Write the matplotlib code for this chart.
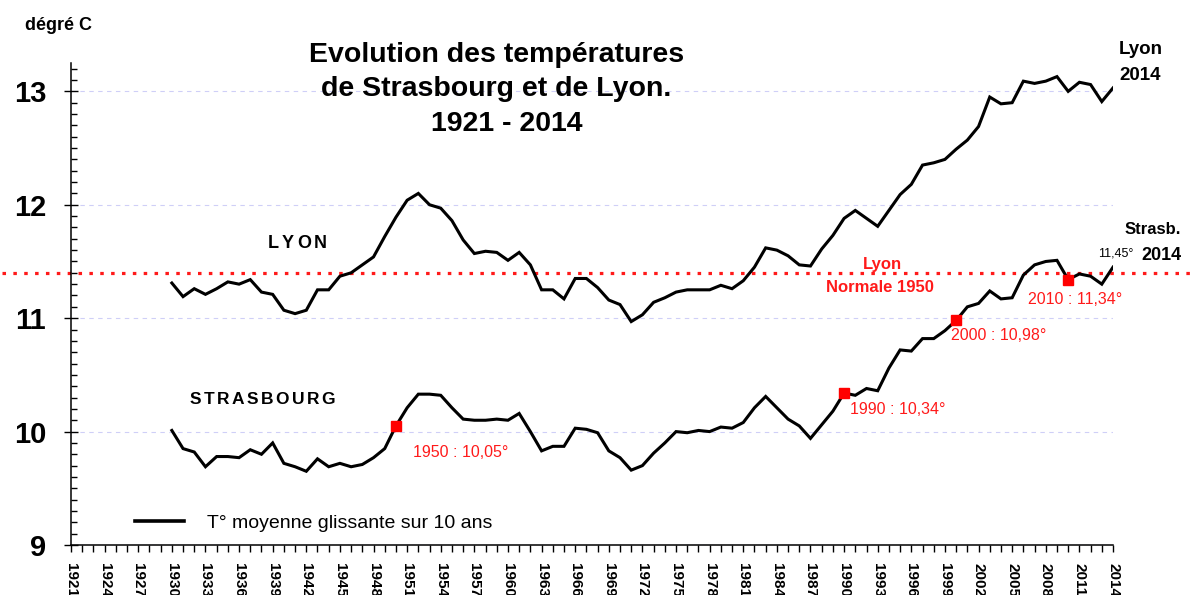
import numpy as np
import matplotlib
matplotlib.use("Agg")
import matplotlib.pyplot as plt
from matplotlib.ticker import MultipleLocator
from matplotlib.lines import Line2D

plt.rcParams['font.family'] = ['Liberation Sans', 'DejaVu Sans']

W, H = 1195, 595

# moyenne glissante sur 10 ans, 1930 -> 2014
years = np.arange(1930, 2015)
lyon = [11.31, 11.19, 11.26, 11.21, 11.26, 11.32, 11.30, 11.34, 11.23, 11.21,
        11.07, 11.04, 11.07, 11.25, 11.25, 11.37, 11.40, 11.47, 11.54, 11.72,
        11.89, 12.04, 12.10, 12.00, 11.97, 11.86, 11.69, 11.57, 11.59, 11.58,
        11.51, 11.58, 11.47, 11.25, 11.25, 11.17, 11.35, 11.35, 11.27, 11.16,
        11.12, 10.97, 11.03, 11.14, 11.18, 11.23, 11.25, 11.25, 11.25, 11.29,
        11.26, 11.33, 11.45, 11.62, 11.60, 11.55, 11.47, 11.46, 11.61, 11.73,
        11.88, 11.95, 11.88, 11.81, 11.95, 12.09, 12.18, 12.35, 12.37, 12.40,
        12.49, 12.57, 12.69, 12.95, 12.89, 12.90, 13.09, 13.07, 13.09, 13.13,
        13.00, 13.08, 13.06, 12.91, 13.03]
strasbourg = [10.01, 9.85, 9.82, 9.69, 9.78, 9.78, 9.77, 9.84, 9.80, 9.90,
              9.72, 9.69, 9.65, 9.76, 9.69, 9.72, 9.69, 9.71, 9.77, 9.85,
              10.05, 10.21, 10.33, 10.33, 10.32, 10.21, 10.11, 10.10, 10.10, 10.11,
              10.10, 10.16, 10.00, 9.83, 9.87, 9.87, 10.03, 10.02, 9.99, 9.83,
              9.77, 9.66, 9.70, 9.81, 9.90, 10.00, 9.99, 10.01, 10.00, 10.04,
              10.03, 10.08, 10.21, 10.31, 10.21, 10.11, 10.05, 9.94, 10.06, 10.18,
              10.34, 10.32, 10.38, 10.36, 10.56, 10.72, 10.71, 10.82, 10.82, 10.89,
              10.98, 11.10, 11.13, 11.24, 11.17, 11.18, 11.38, 11.47, 11.50, 11.51,
              11.34, 11.39, 11.37, 11.30, 11.45]

# points repères de Strasbourg
mark_years = [1950, 1990, 2000, 2010]
mark_vals = [10.05, 10.34, 10.98, 11.34]
mark_labels = ["1950 : 10,05°", "1990 : 10,34°", "2000 : 10,98°", "2010 : 11,34°"]
mark_offsets = [(12, -19), (4, -12), (-4, -11), (-29, -14)]

lyon_normale = 11.4
last_stras = "11,45°"

RED = '#ff1a1a'


def fx(px):
    return px / W


def fy(py):
    return 1 - py / H


def spaced(x, y, s, gap, **kw):
    # texte avec espacement entre lettres (x,y en pixels, y = centre)
    r = fig.canvas.get_renderer()
    cur = x
    for ch in s:
        t = fig.text(fx(cur), fy(y), ch, ha='left', va='center', **kw)
        cur += t.get_window_extent(r).width + gap


fig = plt.figure(figsize=(W / 100, H / 100), dpi=100)
ax = fig.add_axes([fx(71), 50 / H, 1042 / W, 482 / H])

ax.plot(years, lyon, color='black', lw=2.2, solid_joinstyle='miter')
ax.plot(years, strasbourg, color='black', lw=2.2, solid_joinstyle='miter')

ax.axhline(lyon_normale, xmin=-0.066, xmax=1.078, color=RED, lw=2.3,
           linestyle=(0, (1.1, 2.3)), clip_on=False, zorder=1)

ax.plot(mark_years, mark_vals, 's', color='red', ms=7.5, zorder=4)
for yr, v, lab, off in zip(mark_years, mark_vals, mark_labels, mark_offsets):
    ax.annotate(lab, (yr, v), xytext=off, textcoords='offset points',
                ha='left', va='center', color=RED, fontsize=11.5)

ax.annotate(last_stras, (years[-1], strasbourg[-1]), xytext=(2, 10),
            textcoords='offset points', ha='center', va='center', fontsize=9)

ax.set_xlim(1921, 2014)
ax.set_ylim(9, 13.25)

ax.set_xticks(np.arange(1921, 2015, 3))
ax.xaxis.set_minor_locator(MultipleLocator(1))
ax.set_yticks([9, 10, 11, 12, 13])
ax.yaxis.set_minor_locator(MultipleLocator(0.1))

ax.tick_params(axis='x', which='both', direction='out', length=5, width=1,
               labelsize=11, labelrotation=-90, pad=8)
for lab in ax.get_xticklabels():
    lab.set_fontweight('bold')
ax.tick_params(axis='y', which='major', direction='inout', length=10, width=1,
               labelsize=21, pad=13)
ax.tick_params(axis='y', which='minor', direction='in', length=4.5, width=1)
for lab in ax.get_yticklabels():
    lab.set_fontweight('bold')

ax.spines['top'].set_visible(False)
ax.spines['right'].set_visible(False)
for s in ('left', 'bottom'):
    ax.spines[s].set_linewidth(1.1)

ax.grid(axis='y', color='#cfcff7', linestyle=(0, (4, 4)), linewidth=0.8)
ax.set_axisbelow(True)

leg_handle = Line2D([], [], color='black', lw=2.6)
ax.legend([leg_handle], ["T° moyenne glissante sur 10 ans"], loc='center left',
          bbox_to_anchor=(64 / 1042, 22 / 482), frameon=False, fontsize=14,
          handlelength=2.5, handletextpad=1.2, borderpad=0, borderaxespad=0)

# titre
fig.text(fx(497), fy(55), "Evolution des températures", ha='center', va='center',
         fontsize=20.5, fontweight='bold')
fig.text(fx(496), fy(89), "de Strasbourg et de Lyon.", ha='center', va='center',
         fontsize=20.5, fontweight='bold')
fig.text(fx(507), fy(124), "1921 - 2014", ha='center', va='center',
         fontsize=20.5, fontweight='bold')

fig.text(fx(25), fy(26), "dégré C", ha='left', va='center', fontsize=13,
         fontweight='bold')

spaced(268, 243, "LYON", 3, fontsize=13, fontweight='bold')
spaced(190, 399, "STRASBOURG", 2.4, fontsize=12.5, fontweight='bold')

fig.text(fx(882), fy(265), "Lyon", ha='center', va='center', color=RED,
         fontsize=12, fontweight='bold')
fig.text(fx(880), fy(287), "Normale 1950", ha='center', va='center', color=RED,
         fontsize=12, fontweight='bold')

fig.text(fx(1119), fy(50), "Lyon", ha='left', va='center', fontsize=13.5,
         fontweight='bold')
fig.text(fx(1119), fy(76), "2014", ha='left', va='center', fontsize=13.5,
         fontweight='bold')
fig.text(fx(1181), fy(230), "Strasb.", ha='right', va='center', fontsize=12,
         fontweight='bold')
fig.text(fx(1181), fy(255), "2014", ha='right', va='center', fontsize=13,
         fontweight='bold')

fig.savefig("out.png", dpi=100)
